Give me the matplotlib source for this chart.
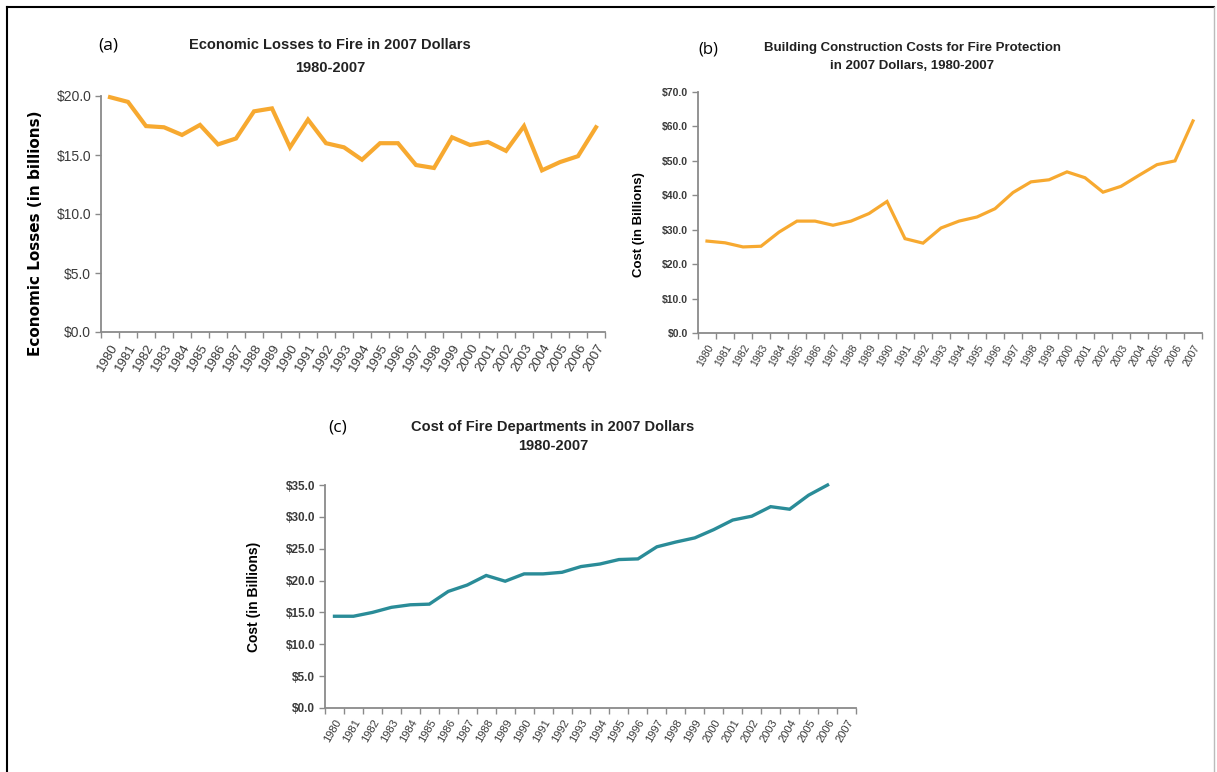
"""Three-panel fire cost chart (a) losses, (b) construction, (c) fire departments."""
import numpy as np
import matplotlib
matplotlib.use("Agg")
import matplotlib.pyplot as plt
from matplotlib.lines import Line2D

W, H = 1217, 772

years = [str(y) for y in range(1980, 2008)]

# (a) economic losses, $ billions
losses = [19.9, 19.5, 17.45, 17.35, 16.7, 17.55, 15.9, 16.4, 18.7, 18.95,
          15.65, 18.0, 16.0, 15.65, 14.6, 16.0, 16.0, 14.15, 13.9, 16.5,
          15.85, 16.1, 15.35, 17.45, 13.7, 14.4, 14.9, 17.35]

# (b) building construction costs, $ billions
construction = [26.7, 26.2, 25.0, 25.2, 29.3, 32.5, 32.5, 31.3, 32.5, 34.7,
                38.2, 27.4, 26.1, 30.5, 32.5, 33.7, 36.1, 40.8, 43.9, 44.5,
                46.8, 45.1, 40.9, 42.6, 45.8, 48.9, 50.0, 61.6]

# (c) fire departments, $ billions (no 2007 value shown)
departments = [14.4, 14.4, 15.0, 15.8, 16.2, 16.3, 18.3, 19.3, 20.8, 19.9,
               21.05, 21.05, 21.3, 22.2, 22.6, 23.3, 23.4, 25.3, 26.05, 26.7,
               28.0, 29.5, 30.1, 31.6, 31.2, 33.4, 35.0, np.nan]

ORANGE = "#F7A930"
TEAL = "#2A8C98"
TICK_C = "#3a3a3a"
AX_C = "#8a8a8a"
ARIAL = ["Liberation Sans", "DejaVu Sans"]


def box(x0, y0, x1, y1):
    return [x0 / W, 1 - y1 / H, (x1 - x0) / W, (y1 - y0) / H]


def ftext(fig, x, y, s, **kw):
    fig.text(x / W, 1 - y / H, s, **kw)


def setup(ax, vals, color, lw, ymax, ystep, yfs, xfs, ywt="normal"):
    x = np.arange(len(years))
    ax.plot(x, vals, color=color, lw=lw, solid_joinstyle="miter", clip_on=False)
    ax.set_xlim(-0.5, len(years) - 0.5)
    ax.set_ylim(0, ymax)
    yt = np.arange(0, ymax + ystep / 2, ystep)
    ax.set_yticks(yt)
    ax.set_yticklabels([f"${v:.1f}" for v in yt], fontsize=yfs, color=TICK_C,
                       family=ARIAL, fontweight=ywt)
    ax.set_xticks(x)
    ax.set_xticklabels(years, rotation=60, ha="right", rotation_mode="anchor",
                       fontsize=xfs, color=TICK_C, family=ARIAL)
    ax.set_xticks(np.arange(-0.5, len(years)), minor=True)
    ax.tick_params(axis="x", which="major", length=0, pad=7)
    ax.tick_params(axis="x", which="minor", length=4, color=AX_C, width=1)
    ax.tick_params(axis="y", length=4, color=AX_C, width=1, pad=3)
    for s in ("top", "right"):
        ax.spines[s].set_visible(False)
    for s in ("left", "bottom"):
        ax.spines[s].set_color(AX_C)
        ax.spines[s].set_linewidth(1.3)


fig = plt.figure(figsize=(W / 100, H / 100), dpi=100)

# (a)
ax_a = fig.add_axes(box(101, 96, 605, 332))
setup(ax_a, losses, ORANGE, 3.0, 20, 5, 10, 9.5)
ax_a.set_ylabel("Economic Losses (in billions)", fontsize=11, fontweight="bold",
                family="DejaVu Sans")
ax_a.yaxis.set_label_coords(-0.115, 0.42)
ftext(fig, 330, 45, "Economic Losses to Fire in 2007 Dollars", ha="center",
      va="center", fontsize=10.5, fontweight="bold", family=ARIAL, color="#222")
ftext(fig, 330, 68, "1980-2007", ha="center", va="center", fontsize=10.5,
      fontweight="bold", family=ARIAL, color="#222")
ftext(fig, 108, 45, "(a)", ha="center", va="center", fontsize=12.5, family="Open Sans")

# (b)
ax_b = fig.add_axes(box(698, 92, 1202, 333))
setup(ax_b, construction, ORANGE, 2.3, 70, 10, 7.5, 7.5, ywt="bold")
ax_b.set_ylabel("Cost (in Billions)", fontsize=9.5, fontweight="bold", family=ARIAL)
ax_b.yaxis.set_label_coords(-0.105, 0.45)
ftext(fig, 912, 48, "Building Construction Costs for Fire Protection", ha="center",
      va="center", fontsize=9.5, fontweight="bold", family=ARIAL, color="#222")
ftext(fig, 912, 66, "in 2007 Dollars, 1980-2007", ha="center", va="center",
      fontsize=9.5, fontweight="bold", family=ARIAL, color="#222")
ftext(fig, 708, 50, "(b)", ha="center", va="center", fontsize=12, family="Open Sans")

# (c)
ax_c = fig.add_axes(box(325, 485, 856, 708))
setup(ax_c, departments, TEAL, 2.4, 35, 5, 8.5, 8, ywt="bold")
ax_c.set_ylabel("Cost (in Billions)", fontsize=10, fontweight="bold", family=ARIAL)
ax_c.yaxis.set_label_coords(-0.12, 0.5)
ftext(fig, 553, 427, "Cost of Fire Departments in 2007 Dollars", ha="center",
      va="center", fontsize=10.5, fontweight="bold", family=ARIAL, color="#222")
ftext(fig, 553, 446, "1980-2007", ha="center", va="center", fontsize=10.5,
      fontweight="bold", family=ARIAL, color="#222")
ftext(fig, 338, 428, "(c)", ha="center", va="center", fontsize=12.5, family="Open Sans")

# outer frame
fig.add_artist(Line2D([7 / W, 7 / W], [0, 1 - 7 / H], color="black", lw=1.5,
                      transform=fig.transFigure))
fig.add_artist(Line2D([7 / W, 1214 / W], [1 - 7 / H, 1 - 7 / H], color="black",
                      lw=1.5, transform=fig.transFigure))
fig.add_artist(Line2D([1214 / W, 1214 / W], [0, 1 - 7 / H], color="#bbbbbb", lw=1,
                      transform=fig.transFigure))

fig.savefig("out.png", dpi=100)
